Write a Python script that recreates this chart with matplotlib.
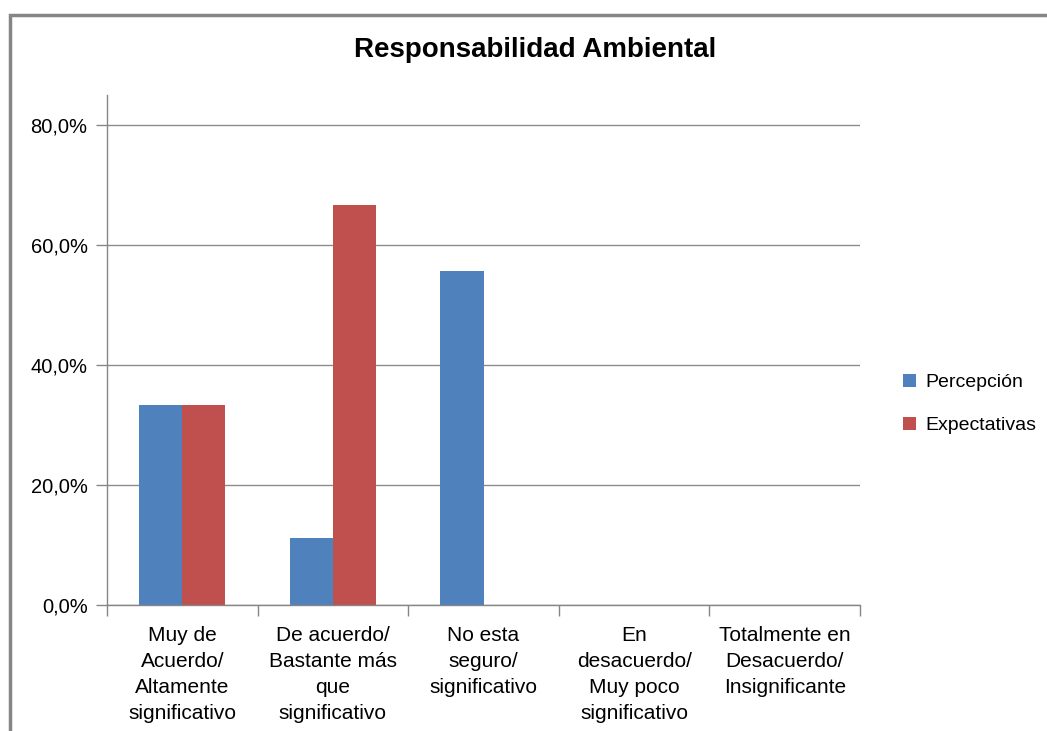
import matplotlib
matplotlib.use("Agg")
import matplotlib.pyplot as plt
import numpy as np
from matplotlib.patches import Rectangle
from matplotlib.ticker import FixedLocator, FuncFormatter

plt.rcParams['font.family'] = ['Liberation Sans Narrow', 'Liberation Sans', 'DejaVu Sans']

categories = ["Muy de\nAcuerdo/\nAltamente\nsignificativo",
              "De acuerdo/\nBastante más\nque\nsignificativo",
              "No esta\nseguro/\nsignificativo",
              "En\ndesacuerdo/\nMuy poco\nsignificativo",
              "Totalmente en\nDesacuerdo/\nInsignificante"]
percepcion = [33.3, 11.1, 55.6, 0.0, 0.0]
expectativas = [33.3, 66.7, 0.0, 0.0, 0.0]
yticks = [0, 20, 40, 60, 80]

W, H = 1047, 731
fig = plt.figure(figsize=(W/100, H/100), dpi=100)
ax = fig.add_axes([107/W, 1-605/H, (860-107)/W, (605-95)/H])

x = np.arange(len(categories))
bw = 0.286
ax.bar(x - bw/2, percepcion, bw, color='#4F81BD', label='Percepción')
ax.bar(x + bw/2, expectativas, bw, color='#C0504D', label='Expectativas')

ax.set_xlim(-0.5, len(categories) - 0.5)
ax.set_ylim(0, 85)
ax.set_yticks(yticks)
ax.yaxis.set_major_formatter(FuncFormatter(lambda v, p: f"{v:.1f}%".replace('.', ',')))
ax.yaxis.grid(True, color='#8c8c8c', lw=1)
ax.set_axisbelow(True)

ax.set_xticks(x)
ax.set_xticklabels(categories, fontsize=15, linespacing=1.47)
ax.xaxis.set_minor_locator(FixedLocator(np.arange(-0.5, len(categories), 1)))
ax.tick_params(axis='x', which='major', length=0, pad=15)
ax.tick_params(axis='x', which='minor', length=8, color='#868686', width=1)
ax.tick_params(axis='y', length=8, color='#868686', width=1, labelsize=14.5, pad=6)

for s in ['top', 'right']:
    ax.spines[s].set_visible(False)
for s in ['left', 'bottom']:
    ax.spines[s].set_color('#868686')
    ax.spines[s].set_linewidth(1)

fig.text(535/W, 1-50/H, 'Responsabilidad Ambiental', ha='center', va='center',
         fontsize=20, fontweight='bold')

leg = ax.legend(loc='center left', bbox_to_anchor=(885/W, 1-404/H), bbox_transform=fig.transFigure,
                frameon=False, fontsize=14, handlelength=0.7, handleheight=0.7,
                labelspacing=1.3, handletextpad=0.5)

fig.add_artist(Rectangle((10/W, -0.1), 1.2, 0.1 + (H-15)/H, transform=fig.transFigure,
                         fill=False, edgecolor='#868686', lw=2.5))

fig.savefig('out.png', dpi=100, facecolor='white')
